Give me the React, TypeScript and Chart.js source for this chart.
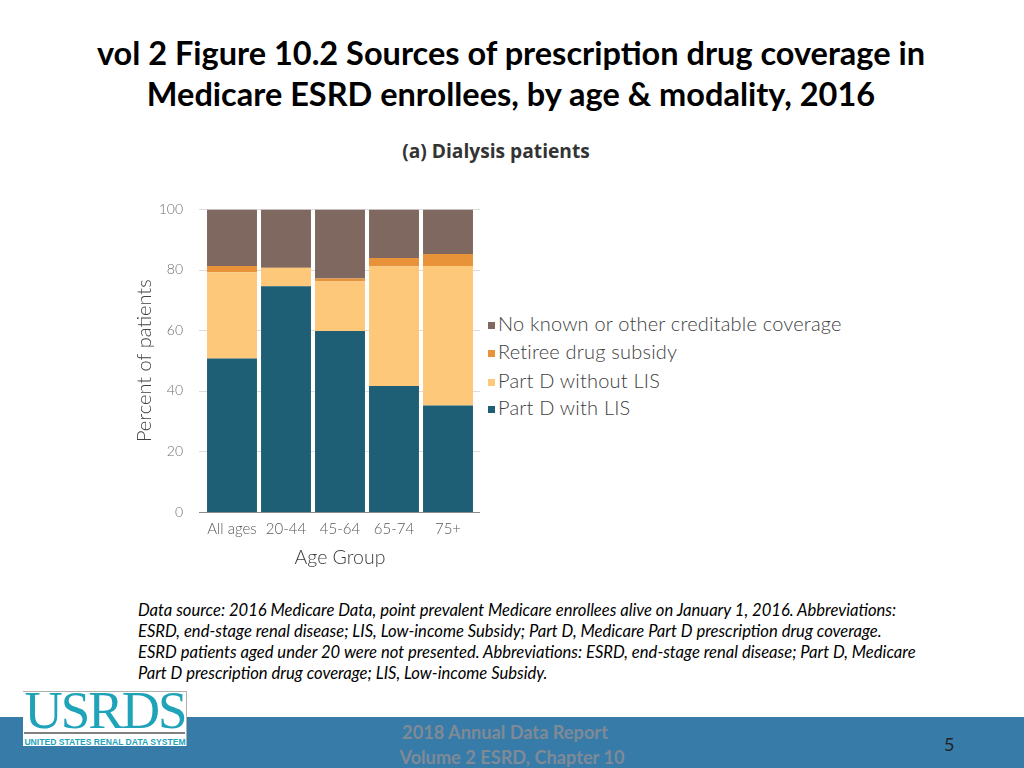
import React, { useEffect, useRef } from 'react';
import { Chart, registerables } from 'chart.js';

Chart.register(...registerables);

const AGE_GROUPS = ['All ages', '20-44', '45-64', '65-74', '75+'];
const PART_D_LIS = [50.7, 74.6, 59.8, 41.6, 35.2];
const PART_D_NO_LIS = [28.5, 6.0, 16.4, 39.5, 46.1];
const RETIREE = [2.1, 0.1, 1.0, 2.8, 4.0];
const NO_COVERAGE = [18.7, 19.3, 22.8, 16.1, 14.7];
const Y_TICKS = [0, 20, 40, 60, 80, 100];

const SERIES_LABELS = ['Part D with LIS', 'Part D without LIS', 'Retiree drug subsidy', 'No known or other creditable coverage'];
const SERIES_COLORS = ['#1f5f75', '#fec87a', '#e8923a', '#7f685f'];
const SERIES_VALUES = [PART_D_LIS, PART_D_NO_LIS, RETIREE, NO_COVERAGE];
const LEGEND_TOPS = [394, 367, 338, 310];

const SANS = "Lato, 'Open Sans', sans-serif";

const gridPlugin = {
    id: 'wideGrid',
    beforeDatasetsDraw(chart: any) {
        const { ctx, chartArea, scales } = chart;
        ctx.save();
        ctx.lineWidth = 1;
        Y_TICKS.forEach((t) => {
            const y = Math.round(scales.y.getPixelForValue(t)) + 0.5;
            ctx.strokeStyle = t === 0 ? '#8c8c8c' : '#dcdcdc';
            ctx.beginPath();
            ctx.moveTo(chartArea.left - 6, y);
            ctx.lineTo(chartArea.right + 5, y);
            ctx.stroke();
        });
        ctx.restore();
    },
};

const StackedChart: React.FC = () => {
    const ref = useRef<HTMLCanvasElement>(null);

    useEffect(() => {
        if (!ref.current) return;
        const chart = new Chart(ref.current, {
            type: 'bar',
            data: {
                labels: AGE_GROUPS,
                datasets: SERIES_LABELS.map((label, i) => ({
                    label,
                    data: SERIES_VALUES[i],
                    backgroundColor: SERIES_COLORS[i],
                    barPercentage: 0.925,
                    categoryPercentage: 1,
                    borderWidth: 0,
                })),
            },
            options: {
                responsive: false,
                animation: false,
                layout: { padding: { top: 17, left: 0, right: 5, bottom: 0 } },
                plugins: {
                    tooltip: { enabled: false },
                    legend: { display: false },
                },
                scales: {
                    x: {
                        stacked: true,
                        grid: { display: false },
                        border: { display: false },
                        ticks: { color: '#595959', font: { family: SANS, size: 15, weight: '300' }, padding: 0, maxRotation: 0 },
                        title: { display: true, text: 'Age Group', color: '#404040', font: { family: SANS, size: 19.5, weight: '300' }, padding: { top: 4, bottom: 11 } },
                        afterFit: (s: any) => { s.height = 68; },
                    },
                    y: {
                        stacked: true,
                        min: 0,
                        max: 100,
                        grid: { display: false },
                        border: { display: false },
                        afterBuildTicks: (s: any) => { s.ticks = Y_TICKS.map((value) => ({ value })); },
                        ticks: { color: '#6f6f6f', font: { family: SANS, size: 14, weight: '300' }, padding: 14 },
                        title: { display: true, text: 'Percent of patients', color: '#404040', font: { family: SANS, size: 20, weight: '300' }, padding: { top: 13, bottom: 0 } },
                        afterFit: (s: any) => { s.width = 85; },
                    },
                },
            },
            plugins: [gridPlugin],
        });
        return () => { chart.destroy(); };
    }, []);

    return <canvas ref={ref} width={360} height={393} style={{ position: 'absolute', left: 120, top: 187 }} />;
};

const App: React.FC = () => {
    return (
        <div style={{ position: 'absolute', left: 0, top: 0, width: 1024, height: 768, overflow: 'hidden', background: '#fff', fontFamily: SANS }}>
            <div style={{ position: 'absolute', left: 0, width: 1022, top: 32, textAlign: 'center', fontWeight: 700, fontSize: 32.5, lineHeight: '41px', color: '#000' }}>
                vol 2 Figure 10.2 Sources of prescription drug coverage in<br />Medicare ESRD enrollees, by age &amp; modality, 2016
            </div>
            <div style={{ position: 'absolute', left: 296, width: 400, top: 137, textAlign: 'center', fontWeight: 700, fontSize: 19.2, fontFamily: "'Open Sans', sans-serif", color: '#333' }}>
                (a) Dialysis patients
            </div>
            <StackedChart />
            {SERIES_LABELS.map((label, i) => (
                <div key={label} style={{ position: 'absolute', left: 488, top: LEGEND_TOPS[i], fontSize: 20, fontWeight: 300, lineHeight: '26px', letterSpacing: 0.2, color: '#404040', whiteSpace: 'nowrap' }}>
                    <span style={{ display: 'inline-block', width: 7, height: 7, marginRight: 3, marginBottom: 2, background: SERIES_COLORS[i] }} />
                    {label}
                </div>
            ))}
            <div style={{ position: 'absolute', left: 138, top: 600, width: 800, fontStyle: 'italic', fontSize: 16.6, lineHeight: '21px', color: '#000', whiteSpace: 'nowrap' }}>
                Data source: 2016 Medicare Data, point prevalent Medicare enrollees alive on January 1, 2016. Abbreviations:<br />
                ESRD, end-stage renal disease; LIS, Low-income Subsidy; Part D, Medicare Part D prescription drug coverage.<br />
                ESRD patients aged under 20 were not presented. Abbreviations: ESRD, end-stage renal disease; Part D, Medicare<br />
                Part D prescription drug coverage; LIS, Low-income Subsidy.
            </div>
            <div style={{ position: 'absolute', left: 0, top: 717, width: 1024, height: 51, background: '#377ba9' }} />
            <div style={{ position: 'absolute', left: 23, top: 691, width: 164, height: 55, background: '#fff', borderTop: '1px solid #b0b0b0', borderRight: '1px solid #b0b0b0', boxSizing: 'border-box', fontFamily: "'Liberation Serif', serif", color: '#1fa3b9' }}>
                <div style={{ position: 'absolute', left: 0, width: 164, top: 0, textAlign: 'center', fontSize: 53, lineHeight: '36px', letterSpacing: -2 }}>USRDS</div>
                <div style={{ position: 'absolute', left: 1, width: 161, top: 40, height: 2, background: '#808080' }} />
                <div style={{ position: 'absolute', left: 0, width: 164, top: 45, textAlign: 'center', fontFamily: "'Liberation Sans', sans-serif", fontWeight: 700, fontSize: 8.6, lineHeight: '10px', whiteSpace: 'nowrap' }}>UNITED STATES RENAL DATA SYSTEM</div>
            </div>
            <div style={{ position: 'absolute', left: 362, width: 300, top: 720, textAlign: 'center', fontWeight: 700, fontSize: 18.2, lineHeight: '25px', color: '#7f8a96' }}>
                <span style={{ position: 'relative', left: -7 }}>2018 Annual Data Report</span><br />Volume 2 ESRD, Chapter 10
            </div>
            <div style={{ position: 'absolute', left: 944, top: 733, fontSize: 18, color: '#222' }}>5</div>
        </div>
    );
};

export default App;
